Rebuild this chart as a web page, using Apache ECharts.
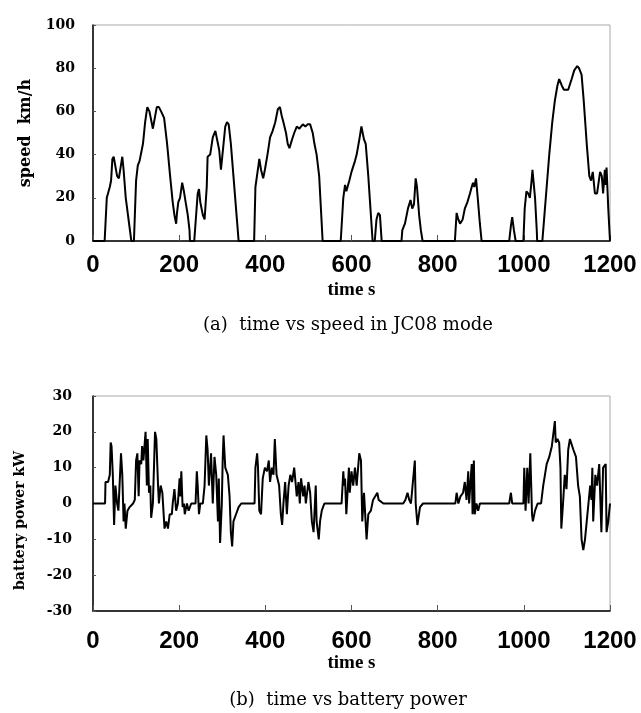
<!DOCTYPE html>
<html><head><meta charset="utf-8">
<script src="https://cdn.jsdelivr.net/npm/echarts@6/dist/echarts.min.js"></script>
<style>html,body{margin:0;padding:0;background:#fff}#c{width:641px;height:713px}</style>
</head><body><div id="c"></div>
<script>
// ---- data ----
const xTicks = [0, 200, 400, 600, 800, 1000, 1200];
const speedTicks = [0, 20, 40, 60, 80, 100];
const powerTicks = [-30, -20, -10, 0, 10, 20, 30];

const speedTime = [
  0,27,32,39,42,45,48,56,60,68,71,76,89,
  95,100,104,108,116,121,126,131,139,148,153,158,165,172,179,185,189,193,195,198,202,207,211,215,220,224,225,
  235,243,246,249,255,259,264,266,272,278,284,290,293,297,303,307,311,315,320,326,334,338,
  374,377,384,386,390,395,399,405,411,417,423,429,434,438,442,448,452,456,462,467,473,479,487,493,498,504,510,514,519,525,529,533,
  575,581,585,588,595,600,608,612,619,623,629,633,639,644,649,654,658,662,666,670,
  716,718,724,731,737,741,745,749,752,757,761,765,
  840,844,848,852,858,863,869,875,879,882,885,889,893,898,902,
  966,970,973,977,981,
  999,1002,1006,1010,1014,1018,1020,1026,1030,1031,
  1043,1047,1053,1059,1066,1072,1078,1082,1088,1093,1103,1111,1117,1124,1128,1134,1139,1146,1152,1156,1160,1165,1170,1177,1181,1184,1188,1190,1192,1196,1200
];
const speedValue = [
  0,0,20,25,28,38,39,30,29,39,33,20,0,
  0,28,35,37,45,55,62,60,52,62,62,60,57,45,30,18,12,8,13,18,20,27,23,18,12,5,0,
  0,22,24,18,12,10,25,39,40,48,51,45,42,33,45,53,55,54,45,30,10,0,
  0,25,35,38,33,29,33,40,48,51,55,61,62,58,55,50,45,43,47,50,53,52,54,53,54,54,50,45,40,30,15,0,
  0,20,26,23,28,32,37,40,48,53,47,45,30,15,0,0,10,13,12,0,
  0,5,8,15,19,15,17,29,25,12,5,0,
  0,13,10,8,10,15,18,22,25,27,25,29,20,8,0,
  0,7,11,5,0,
  0,15,23,22,20,28,33,20,5,0,
  0,10,25,40,55,65,72,75,72,70,70,75,79,81,80,77,65,45,30,28,32,22,22,32,30,22,33,26,34,15,0
];

const powerTime = [
  0,28,29,35,39,41,43,46,49,52,
  56,59,65,68,71,73,76,80,85,93,
  97,100,103,106,108,112,114,117,122,125,
  127,130,133,135,139,144,147,151,153,157,
  161,166,170,174,178,183,185,189,193,197,
  201,203,205,208,211,213,218,222,228,238,
  241,243,246,249,255,259,263,266,269,274,
  278,282,286,290,292,295,299,301,303,307,
  313,317,320,323,326,332,338,344,375,377,
  381,383,386,390,394,399,404,408,411,415,
  419,422,426,432,436,439,442,446,450,454,
  458,462,467,470,473,477,480,483,488,491,
  494,500,504,508,512,517,519,524,527,531,
  537,577,581,583,585,588,594,596,600,604,
  608,612,618,622,625,629,635,639,645,650,
  660,663,667,674,720,725,730,734,738,747,
  749,753,759,766,841,844,848,853,859,863,
  867,871,873,879,881,884,886,890,894,898,
  966,970,973,999,1001,1004,1008,1011,1015,1019,
  1021,1026,1032,1040,1045,1049,1053,1059,1065,1067,
  1072,1074,1078,1082,1085,1087,1091,1095,1099,1103,
  1107,1115,1121,1126,1130,1134,1138,1142,1146,1150,
  1154,1157,1159,1161,1166,1170,1175,1180,1184,1190,
  1192,1196,1200
];
const powerValue = [
  0,0,6,6,8,17,16,8,-6,5,
  0,-2,14,8,-5,0,-7,-2,-1,0,
  1,12,14,2,12,11,16,12,20,5,
  18,3,5,-4,0,20,18,5,0,5,
  3,-7,-5,-7,-3,-3,0,4,-2,0,
  7,2,9,-1,0,-3,0,-2,0,0,
  9,5,-3,0,0,5,19,15,5,14,
  0,13,8,-5,7,-11,0,12,19,10,
  8,2,-8,-12,-5,-3,-1,0,0,10,
  14,10,-2,-3,7,10,9,12,6,10,
  8,18,8,5,-3,-6,0,6,-3,5,
  8,6,10,6,2,6,0,7,2,5,
  0,6,3,-5,-8,5,-5,-10,-5,-2,
  0,0,9,5,7,-3,10,3,9,5,
  10,5,14,12,-5,3,-10,-3,-2,1,
  3,1,1,0,0,1,3,1,0,12,
  0,-6,-1,0,0,3,0,2,3,6,
  1,9,0,11,-3,12,-3,0,-2,0,
  0,3,0,0,10,-2,10,0,14,-3,
  -5,-2,0,0,5,8,11,13,16,18,
  23,17,18,17,10,-7,0,8,4,15,
  18,15,13,5,2,-10,-13,-10,-5,0,
  5,1,10,-5,8,5,11,-8,10,11,
  -8,-5,0
];

const xTitle = 'time s';
const speedTitle = 'speed  km/h';
const powerTitle = 'battery power kW';
const captionA = '(a)  time vs speed in JC08 mode';
const captionB = '(b)  time vs battery power';

// ---- chart ----
const chart = echarts.init(document.getElementById('c'), null, {renderer: 'canvas'});
const pairs = (t, v) => t.map((x, i) => [x, v[i]]);

function xAxisDef(gi, labelMargin, nameGap) {
  return {
    type: 'value', gridIndex: gi,
    min: xTicks[0], max: xTicks[xTicks.length - 1], interval: xTicks[1] - xTicks[0],
    axisLine: {show: true, onZero: false, lineStyle: {color: '#000', width: 1.5}},
    axisTick: {show: true, inside: true, length: 6, lineStyle: {color: '#555', width: 1}},
    axisLabel: {margin: labelMargin, color: '#000', fontFamily: 'Liberation Sans', fontWeight: 'bold', fontSize: 24,
                formatter: v => String(v)},
    splitLine: {show: false},
    name: xTitle, nameLocation: 'middle', nameGap: nameGap,
    nameTextStyle: {fontFamily: 'Liberation Serif', fontWeight: 'bold', fontSize: 19, color: '#000'}
  };
}
function yAxisDef(gi, ticks, labelMargin, title, nameGap, fs, pad) {
  return {
    type: 'value', gridIndex: gi,
    min: ticks[0], max: ticks[ticks.length - 1], interval: ticks[1] - ticks[0],
    axisLine: {show: true, onZero: false, lineStyle: {color: '#000', width: 1.5}},
    axisTick: {show: true, inside: true, length: 3, lineStyle: {color: '#555', width: 1}},
    axisLabel: {margin: labelMargin, color: '#000', fontFamily: 'DejaVu Serif', fontWeight: 'bold', fontSize: 14,
                formatter: v => String(v)},
    splitLine: {show: false},
    name: title, nameLocation: 'middle', nameGap: nameGap, nameRotate: 90,
    nameTextStyle: {fontFamily: 'DejaVu Serif', fontWeight: 'bold', fontSize: fs, color: '#000', padding: pad}
  };
}

chart.setOption({
  animation: false,
  backgroundColor: '#fff',
  grid: [
    {left: 93, top: 25, width: 517, height: 216, show: true, borderColor: '#a8a8a8', borderWidth: 1, containLabel: false},
    {left: 93, top: 396, width: 517, height: 215, show: true, borderColor: '#a8a8a8', borderWidth: 1, containLabel: false}
  ],
  xAxis: [xAxisDef(0, 12, 40), xAxisDef(1, 18, 42)],
  yAxis: [
    yAxisDef(0, speedTicks, 18, speedTitle, 59, 16, 0),
    yAxisDef(1, powerTicks, 21, powerTitle, 66, 14, [0, 34, 0, 0])
  ],
  series: [
    {type: 'line', xAxisIndex: 0, yAxisIndex: 0, data: pairs(speedTime, speedValue),
     symbol: 'none', lineStyle: {color: '#000', width: 2}, z: 3},
    {type: 'line', xAxisIndex: 1, yAxisIndex: 1, data: pairs(powerTime, powerValue),
     symbol: 'none', lineStyle: {color: '#000', width: 2}, z: 3}
  ],
  graphic: [
    {type: 'text', x: 348, y: 316,
     style: {text: captionA, fontFamily: 'DejaVu Serif', fontSize: 18, fill: '#000', textAlign: 'center'}},
    {type: 'text', x: 348, y: 691,
     style: {text: captionB, fontFamily: 'DejaVu Serif', fontSize: 18, fill: '#000', textAlign: 'center'}}
  ]
});
</script></body></html>
